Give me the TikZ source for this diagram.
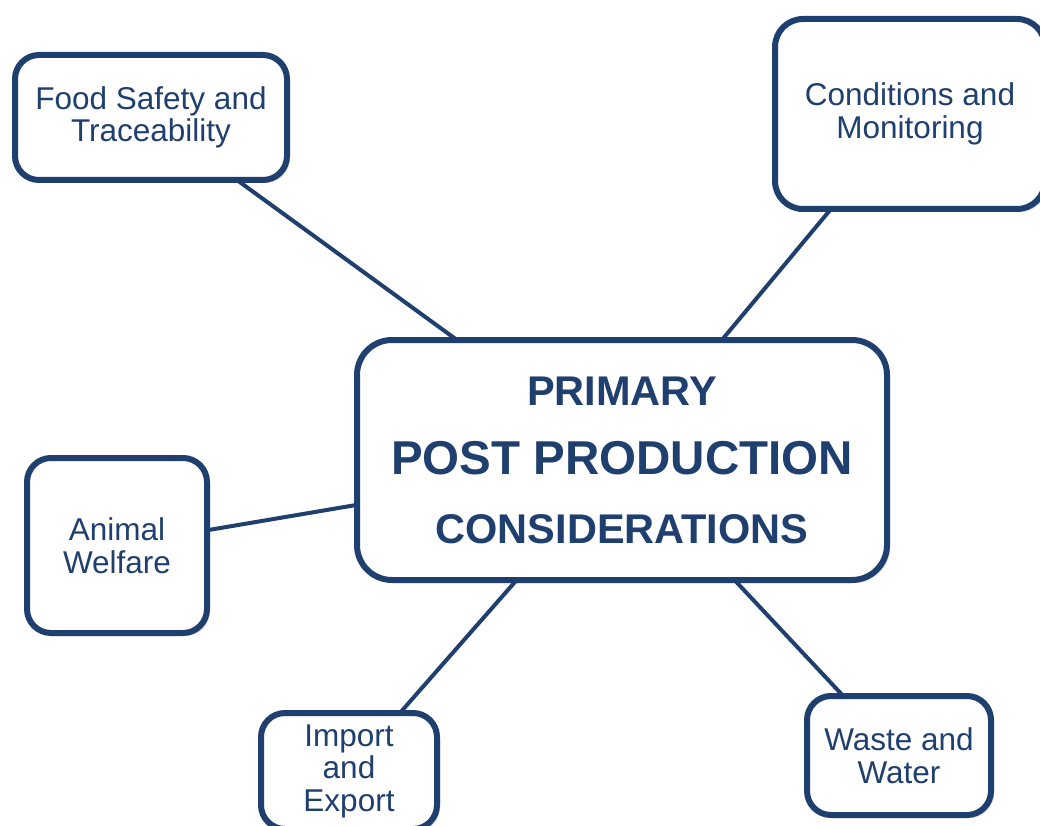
\documentclass[tikz,border=0pt]{standalone}
\usepackage{fontspec}
\setmainfont{Liberation Sans}
\usetikzlibrary{backgrounds,shadows}
\definecolor{navy}{RGB}{31,63,110}
\tikzset{
  topic/.style={draw=navy, line width=6pt, fill=white, rounded corners=24pt,
    inner sep=0pt, align=center, text=navy,
    font=\fontsize{31.5}{32.5}\selectfont,
    drop shadow={shadow xshift=3pt, shadow yshift=-3pt, opacity=0.25}},
  hub/.style={topic, rounded corners=35pt, font=\bfseries\fontsize{41.5}{69}\selectfont},
  link/.style={draw=navy, line width=4pt}
}
\begin{document}
\begin{tikzpicture}[x=1pt, y=-1pt]
\useasboundingbox (0,0) rectangle (1040,826);
\node[hub, minimum width=530pt, minimum height=240pt] (main) at (622,460)
  {PRIMARY\\{\fontsize{47.5}{69}\selectfont POST PRODUCTION}\\CONSIDERATIONS};
\node[topic, minimum width=272pt, minimum height=125pt] (fs) at (151,117.5) {Food Safety and\\Traceability};
\node[topic, rounded corners=28pt, minimum width=270pt, minimum height=190pt] (cm) at (910,114) {Conditions and\\Monitoring};
\node[topic, minimum width=180pt, minimum height=175pt] (aw) at (117,545.5) {Animal\\Welfare};
\node[topic, minimum width=176pt, minimum height=116pt] (ie) at (349,771) {Import\\and\\Export};
\node[topic, minimum width=184pt, minimum height=119pt] (ww) at (899,755.5) {Waste and\\Water};
\begin{pgfonlayer}{background}
\draw[link] (fs.center) -- (main.center);
\draw[link] (cm.center) -- (main.center);
\draw[link] (aw.center) -- (main.center);
\draw[link] (ie.center) -- (main.center);
\draw[link] (ww.center) -- (main.center);
\end{pgfonlayer}
\end{tikzpicture}
\end{document}
